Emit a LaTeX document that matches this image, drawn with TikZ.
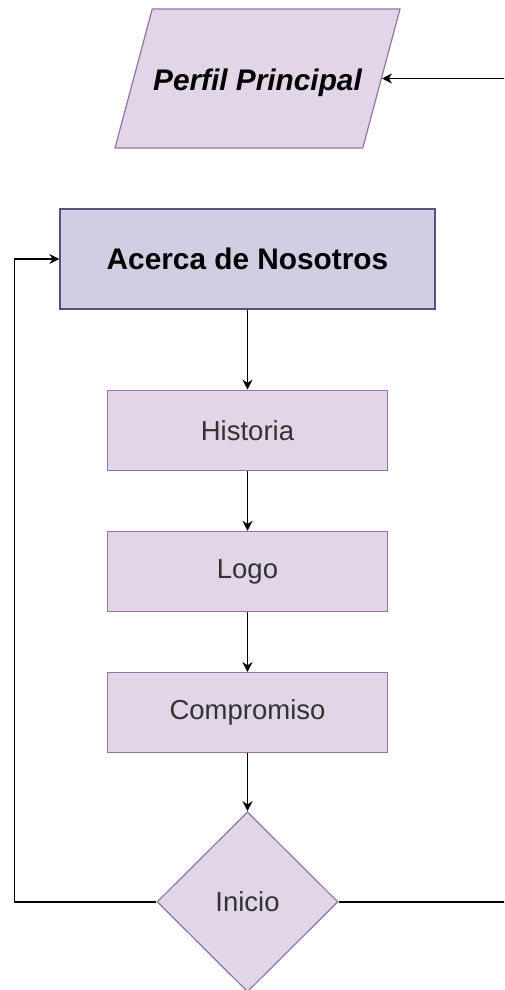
\documentclass[tikz,border=0pt]{standalone}
\usepackage{fontspec}
\setmainfont{Liberation Sans}
\usepackage{xcolor}
\usetikzlibrary{shapes.geometric,arrows.meta,positioning}
\definecolor{lilafill}{HTML}{E1D5E7}
\definecolor{lilaline}{HTML}{9673A6}
\definecolor{azulfill}{HTML}{D0CEE2}
\definecolor{azulline}{HTML}{56517E}
\definecolor{texto}{HTML}{333333}
\tikzset{
    entrada/.style={draw=lilaline, fill=lilafill, trapezium, trapezium left angle=75, trapezium right angle=105, trapezium stretches body=true, minimum width=285pt, text height=26pt, text depth=3pt, inner xsep=0pt, inner ysep=55pt, text centered, line width=1.2pt, font=\fontsize{29.8}{36}\selectfont\bfseries\itshape},
    seccion/.style={draw=azulline, fill=azulfill, rectangle, minimum width=375pt, minimum height=100pt, inner sep=0pt, text centered, line width=1.2pt, font=\fontsize{29.8}{36}\selectfont\bfseries},
    tema/.style={draw=lilaline, fill=lilafill, rectangle, minimum width=280pt, minimum height=80pt, inner sep=0pt, text centered, line width=1.2pt, text=texto, font=\fontsize{27.5}{33}\selectfont},
    decision/.style={draw=lilaline, fill=lilafill, diamond, minimum width=181pt, minimum height=180pt, inner sep=0pt, text centered, line width=1.2pt, text=texto, font=\fontsize{27.5}{33}\selectfont},
    arrow/.style={-{Stealth[length=10pt, width=10pt]}, line width=1.6pt}
}
\begin{document}
\begin{tikzpicture}[x=1pt, y=-1pt]
        \useasboundingbox (0,0) rectangle (504,990);
        \clip (0,0) rectangle (504,990);
        % Perfil
        \node[entrada] (perfil) at (257.5,78.5) {Perfil Principal};
        
        % Seccion
        \node[seccion] (acerca) at (247.5,259) {Acerca de Nosotros};
        
        % Temas
        \node[tema, below=80pt of acerca] (historia) {Historia};
        \node[tema, below=60pt of historia] (logo) {Logo};
        \node[tema, below=60pt of logo] (compromiso) {Compromiso};
        
        % Decision
        \node[decision, below=58pt of compromiso] (inicio) {Inicio};
        
        % Flujo
        \draw[arrow] (acerca) -- (historia);
        \draw[arrow] (historia) -- (logo);
        \draw[arrow] (logo) -- (compromiso);
        \draw[arrow] (compromiso) -- (inicio);
        
        % Retornos
        \coordinate (izq) at ([xshift=-142pt]inicio.west);
        \coordinate (der) at ([xshift=180pt]inicio.east);
        \draw[arrow] (inicio.west) -- (izq) |- (acerca.west);
        \draw[arrow] (inicio.east) -- (der) |- (perfil.east);
    \end{tikzpicture}
\end{document}
